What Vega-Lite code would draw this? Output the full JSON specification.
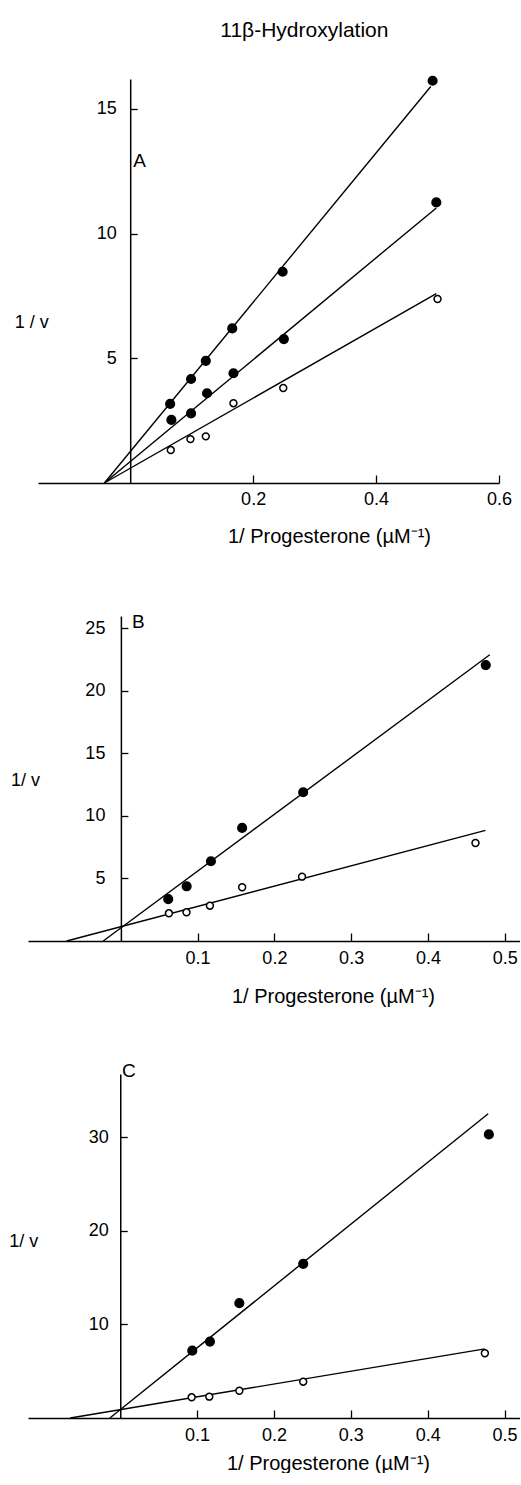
{
  "$schema": "https://vega.github.io/schema/vega-lite/v6.json",
  "padding": {"left": 8, "top": 20, "right": 0, "bottom": 0},
  "background": "white",
  "title": {"text": "11β-Hydroxylation", "fontSize": 21, "font": "Liberation Sans", "fontWeight": "normal", "color": "black", "anchor": "middle", "dx": 40, "offset": 32},
  "datasets": {
    "pts": [
      {"panel": "A", "series": "s1", "kind": "filled", "x": 0.065, "y": 3.17},
      {"panel": "A", "series": "s1", "kind": "filled", "x": 0.099, "y": 4.17},
      {"panel": "A", "series": "s1", "kind": "filled", "x": 0.123, "y": 4.9},
      {"panel": "A", "series": "s1", "kind": "filled", "x": 0.166, "y": 6.2},
      {"panel": "A", "series": "s1", "kind": "filled", "x": 0.248, "y": 8.47},
      {"panel": "A", "series": "s1", "kind": "filled", "x": 0.492, "y": 16.13},
      {"panel": "A", "series": "s2", "kind": "filled", "x": 0.067, "y": 2.53},
      {"panel": "A", "series": "s2", "kind": "filled", "x": 0.099, "y": 2.79},
      {"panel": "A", "series": "s2", "kind": "filled", "x": 0.125, "y": 3.6},
      {"panel": "A", "series": "s2", "kind": "filled", "x": 0.168, "y": 4.4},
      {"panel": "A", "series": "s2", "kind": "filled", "x": 0.25, "y": 5.77},
      {"panel": "A", "series": "s2", "kind": "filled", "x": 0.498, "y": 11.25},
      {"panel": "A", "series": "s3", "kind": "open", "x": 0.066, "y": 1.32},
      {"panel": "A", "series": "s3", "kind": "open", "x": 0.098, "y": 1.76},
      {"panel": "A", "series": "s3", "kind": "open", "x": 0.123, "y": 1.87},
      {"panel": "A", "series": "s3", "kind": "open", "x": 0.168, "y": 3.2},
      {"panel": "A", "series": "s3", "kind": "open", "x": 0.249, "y": 3.81},
      {"panel": "A", "series": "s3", "kind": "open", "x": 0.5, "y": 7.38},
      {"panel": "B", "series": "s1", "kind": "filled", "x": 0.0617, "y": 3.35},
      {"panel": "B", "series": "s1", "kind": "filled", "x": 0.0857, "y": 4.37},
      {"panel": "B", "series": "s1", "kind": "filled", "x": 0.1173, "y": 6.37},
      {"panel": "B", "series": "s1", "kind": "filled", "x": 0.158, "y": 9.03},
      {"panel": "B", "series": "s1", "kind": "filled", "x": 0.2375, "y": 11.88},
      {"panel": "B", "series": "s1", "kind": "filled", "x": 0.4754, "y": 22.04},
      {"panel": "B", "series": "s2", "kind": "open", "x": 0.0626, "y": 2.21},
      {"panel": "B", "series": "s2", "kind": "open", "x": 0.0855, "y": 2.29},
      {"panel": "B", "series": "s2", "kind": "open", "x": 0.116, "y": 2.82},
      {"panel": "B", "series": "s2", "kind": "open", "x": 0.158, "y": 4.29},
      {"panel": "B", "series": "s2", "kind": "open", "x": 0.236, "y": 5.14},
      {"panel": "B", "series": "s2", "kind": "open", "x": 0.462, "y": 7.83},
      {"panel": "C", "series": "s1", "kind": "filled", "x": 0.0937, "y": 7.19},
      {"panel": "C", "series": "s1", "kind": "filled", "x": 0.1167, "y": 8.16},
      {"panel": "C", "series": "s1", "kind": "filled", "x": 0.1549, "y": 12.27},
      {"panel": "C", "series": "s1", "kind": "filled", "x": 0.238, "y": 16.47},
      {"panel": "C", "series": "s1", "kind": "filled", "x": 0.4795, "y": 30.3},
      {"panel": "C", "series": "s2", "kind": "open", "x": 0.0929, "y": 2.21},
      {"panel": "C", "series": "s2", "kind": "open", "x": 0.1158, "y": 2.28},
      {"panel": "C", "series": "s2", "kind": "open", "x": 0.1549, "y": 2.91},
      {"panel": "C", "series": "s2", "kind": "open", "x": 0.238, "y": 3.88},
      {"panel": "C", "series": "s2", "kind": "open", "x": 0.4743, "y": 6.92}
    ],
    "lns": [
      {"panel": "A", "series": "s1", "x": -0.042, "y": 0},
      {"panel": "A", "series": "s1", "x": 0.489, "y": 15.9},
      {"panel": "A", "series": "s2", "x": -0.042, "y": 0},
      {"panel": "A", "series": "s2", "x": 0.498, "y": 11.03},
      {"panel": "A", "series": "s3", "x": -0.042, "y": 0},
      {"panel": "A", "series": "s3", "x": 0.498, "y": 7.59},
      {"panel": "B", "series": "s1", "x": -0.023, "y": 0},
      {"panel": "B", "series": "s1", "x": 0.4806, "y": 22.86},
      {"panel": "B", "series": "s2", "x": -0.0706, "y": 0},
      {"panel": "B", "series": "s2", "x": 0.475, "y": 8.84},
      {"panel": "C", "series": "s1", "x": -0.0135, "y": 0},
      {"panel": "C", "series": "s1", "x": 0.4786, "y": 32.5},
      {"panel": "C", "series": "s2", "x": -0.065, "y": 0},
      {"panel": "C", "series": "s2", "x": 0.4743, "y": 7.38}
    ],
    "lbl": [
      {"panel": "A", "label": "A", "x": 0.005, "y": 12.9},
      {"panel": "B", "label": "B", "x": 0.0145, "y": 25.5},
      {"panel": "C", "label": "C", "x": 0.0023, "y": 37.1}
    ]
  },
  "vconcat": [
    {
      "width": 471,
      "height": 404,
      "encoding": {
        "x": {"field": "x", "type": "quantitative",
          "scale": {"domain": [-0.15, 0.6], "range": [10, 471], "nice": false, "zero": false},
          "axis": {"values": [0.2, 0.4, 0.6], "format": ".1f", "tickSize": -8, "labelPadding": 15,
            "title": "1/ Progesterone (µM⁻¹)", "titleX": 301, "titleY": 59, "titleAlign": "center", "titleBaseline": "alphabetic"}},
        "y": {"field": "y", "type": "quantitative",
          "scale": {"domain": [0, 16.2], "nice": false},
          "axis": {"values": [5, 10, 15], "offset": -102.2, "tickSize": -7, "labelPadding": 21,
            "title": "1 / v", "titleAngle": 0, "titleX": -99, "titleY": 243, "titleAlign": "center", "titleBaseline": "middle", "titleFontSize": 18}}
      },
      "layer": [
        {"data": {"name": "lns"}, "transform": [{"filter": "datum.panel === 'A'"}],
          "mark": {"type": "line", "color": "black", "strokeWidth": 1.4},
          "encoding": {"detail": {"field": "series"}}},
        {"data": {"name": "pts"}, "transform": [{"filter": "datum.panel === 'A'"}],
          "mark": {"type": "circle", "stroke": "black", "strokeWidth": 1.5, "opacity": 1},
          "encoding": {
            "fill": {"field": "kind", "type": "nominal", "scale": {"domain": ["filled", "open"], "range": ["black", "white"]}, "legend": null},
            "size": {"field": "kind", "type": "nominal", "scale": {"domain": ["filled", "open"], "range": [75, 48]}, "legend": null}}},
        {"data": {"name": "lbl"}, "transform": [{"filter": "datum.panel === 'A'"}],
          "mark": {"type": "text", "align": "left", "baseline": "middle", "fontSize": 19, "font": "Liberation Sans", "color": "black"},
          "encoding": {"text": {"field": "label"}}}
      ]
    },
    {
      "width": 492,
      "height": 325,
      "encoding": {
        "x": {"field": "x", "type": "quantitative",
          "scale": {"domain": [-0.121, 0.52], "nice": false, "zero": false},
          "axis": {"values": [0.1, 0.2, 0.3, 0.4, 0.5], "format": ".1f", "tickSize": -8, "labelPadding": 16,
            "title": "1/ Progesterone (µM⁻¹)", "titleX": 305, "titleY": 61, "titleAlign": "center", "titleBaseline": "alphabetic"}},
        "y": {"field": "y", "type": "quantitative",
          "scale": {"domain": [0, 25.96], "nice": false},
          "axis": {"values": [5, 10, 15, 20, 25], "offset": -92.9, "tickSize": -7, "labelPadding": 23,
            "title": "1/ v", "titleAngle": 0, "titleX": -96, "titleY": 164, "titleAlign": "center", "titleBaseline": "middle", "titleFontSize": 18}}
      },
      "layer": [
        {"data": {"name": "lns"}, "transform": [{"filter": "datum.panel === 'B'"}],
          "mark": {"type": "line", "color": "black", "strokeWidth": 1.4},
          "encoding": {"detail": {"field": "series"}}},
        {"data": {"name": "pts"}, "transform": [{"filter": "datum.panel === 'B'"}],
          "mark": {"type": "circle", "stroke": "black", "strokeWidth": 1.5, "opacity": 1},
          "encoding": {
            "fill": {"field": "kind", "type": "nominal", "scale": {"domain": ["filled", "open"], "range": ["black", "white"]}, "legend": null},
            "size": {"field": "kind", "type": "nominal", "scale": {"domain": ["filled", "open"], "range": [70, 48]}, "legend": null}}},
        {"data": {"name": "lbl"}, "transform": [{"filter": "datum.panel === 'B'"}],
          "mark": {"type": "text", "align": "left", "baseline": "middle", "fontSize": 19, "font": "Liberation Sans", "color": "black"},
          "encoding": {"text": {"field": "label"}}}
      ]
    },
    {
      "width": 492,
      "height": 344,
      "encoding": {
        "x": {"field": "x", "type": "quantitative",
          "scale": {"domain": [-0.12, 0.52], "nice": false, "zero": false},
          "axis": {"values": [0.1, 0.2, 0.3, 0.4, 0.5], "format": ".1f", "tickSize": -8, "labelPadding": 16,
            "title": "1/ Progesterone (µM⁻¹)", "titleX": 300, "titleY": 51, "titleAlign": "center", "titleBaseline": "alphabetic"}},
        "y": {"field": "y", "type": "quantitative",
          "scale": {"domain": [0, 36.75], "nice": false},
          "axis": {"values": [10, 20, 30], "offset": -92.25, "tickSize": -7, "labelPadding": 19,
            "title": "1/ v", "titleAngle": 0, "titleX": -97, "titleY": 167, "titleAlign": "center", "titleBaseline": "middle", "titleFontSize": 18}}
      },
      "layer": [
        {"data": {"name": "lns"}, "transform": [{"filter": "datum.panel === 'C'"}],
          "mark": {"type": "line", "color": "black", "strokeWidth": 1.4},
          "encoding": {"detail": {"field": "series"}}},
        {"data": {"name": "pts"}, "transform": [{"filter": "datum.panel === 'C'"}],
          "mark": {"type": "circle", "stroke": "black", "strokeWidth": 1.5, "opacity": 1},
          "encoding": {
            "fill": {"field": "kind", "type": "nominal", "scale": {"domain": ["filled", "open"], "range": ["black", "white"]}, "legend": null},
            "size": {"field": "kind", "type": "nominal", "scale": {"domain": ["filled", "open"], "range": [65, 48]}, "legend": null}}},
        {"data": {"name": "lbl"}, "transform": [{"filter": "datum.panel === 'C'"}],
          "mark": {"type": "text", "align": "left", "baseline": "middle", "fontSize": 19, "font": "Liberation Sans", "color": "black"},
          "encoding": {"text": {"field": "label"}}}
      ]
    }
  ],
  "spacing": 133,
  "bounds": "flush",
  "config": {
    "view": {"stroke": null},
    "font": "Liberation Sans",
    "axis": {
      "domainColor": "black", "domainWidth": 1.5, "tickColor": "black", "tickWidth": 1.3,
      "labelColor": "black", "labelFont": "Liberation Sans", "labelFontSize": 18,
      "titleFont": "Liberation Sans", "titleFontSize": 20, "titleFontWeight": "normal", "titleColor": "black",
      "grid": false, "labelFlush": false, "labelOverlap": false
    }
  }
}
